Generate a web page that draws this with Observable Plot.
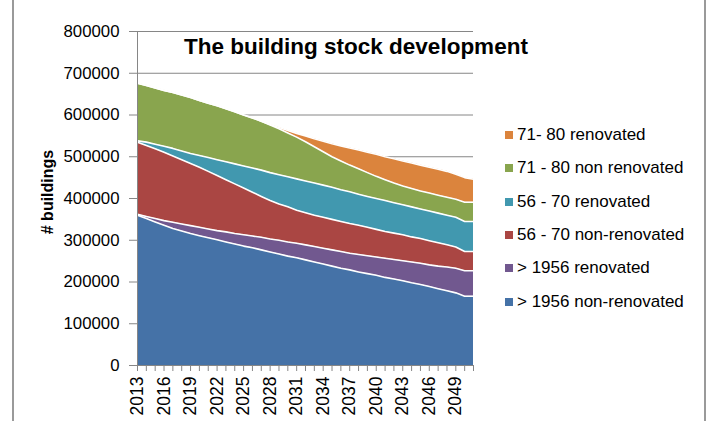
<!DOCTYPE html>
<html>
<head>
<meta charset="utf-8">
<script src="https://cdn.jsdelivr.net/npm/d3@7"></script>
<script src="https://cdn.jsdelivr.net/npm/@observablehq/plot@0.6"></script>
<style>
  html, body { margin: 0; padding: 0; background: #fff; }
  #wrap { position: relative; width: 709px; height: 421px; overflow: hidden; font-family: "Liberation Sans", Arial, sans-serif; }
  #frame { position: absolute; left: 12px; top: -5px; width: 690px; height: 440px; border-left: 2px solid #9a9a9a; border-right: 2px solid #9a9a9a; }
  #title { position: absolute; left: 0; width: 712px; top: 36px; text-align: center; font-weight: bold; font-size: 22.5px; line-height: 1; color: #000; }
  #ytitle { position: absolute; left: 48px; top: 192px; transform: translate(-50%, -50%) rotate(-90deg); font-weight: bold; font-size: 16px; white-space: nowrap; color: #000; }
  .leg { position: absolute; left: 505px; font-size: 17px; line-height: 20px; white-space: nowrap; color: #000; }
  .leg span.sw { display: inline-block; width: 8px; height: 8px; margin-right: 4px; vertical-align: 1px; }
  svg { position: absolute; left: 0; top: 0; }
</style>
</head>
<body>
<div id="wrap">
  <div id="frame"></div>
</div>
<script>
const years = [2013,2014,2015,2016,2017,2018,2019,2020,2021,2022,2023,2024,2025,2026,2027,2028,2029,2030,2031,2032,2033,2034,2035,2036,2037,2038,2039,2040,2041,2042,2043,2044,2045,2046,2047,2048,2049,2050,2051];
const labelYears = [2013,2016,2019,2022,2025,2028,2031,2034,2037,2040,2043,2046,2049];
const yTicks = [0,100000,200000,300000,400000,500000,600000,700000,800000];

const seriesNames = ["> 1956 non-renovated", "> 1956 renovated", "56 - 70 non-renovated", "56 - 70 renovated", "71 - 80 non renovated", "71- 80 renovated"];
const seriesColors = ["#4572A7", "#71588F", "#AA4643", "#4198AF", "#89A54E", "#DB843D"];

const pre1956NonRenovated = [360000,352000,344000,336000,328000,322000,316000,311000,306000,301000,296000,291000,286000,282000,277000,272000,267000,262000,258000,253000,248000,243000,238000,233000,229000,224000,220000,216000,211000,207000,203000,198000,194000,189000,184000,179000,174000,166000,166000];
const pre1956Renovated = [2000,5000,8000,11000,15000,17000,19000,20000,21000,22000,24000,25000,27000,28000,30000,31000,33000,34000,35000,36000,37000,38000,39000,40000,40000,42000,43000,44000,46000,47000,48000,50000,51000,52000,54000,57000,59000,61000,61000];
const p5670NonRenovated = [173000,170000,167000,164000,159000,154000,149000,144000,138000,132000,125000,119000,112000,105000,98000,92000,87000,84000,79000,77000,75000,74000,73000,72000,71000,70000,68000,66000,64000,63000,62000,60000,59000,58000,56000,53000,51000,46000,46000];
const p5670Renovated = [3000,8000,11000,14000,18000,21000,24000,28000,33000,38000,43000,48000,53000,58000,63000,67000,70000,72000,75000,76000,77000,77000,77000,76000,76000,74000,74000,74000,74000,73000,72000,72000,71000,71000,71000,71000,71000,72000,72000];
const p7180NonRenovated = [138000,136000,135000,134000,134000,134000,134000,132000,130000,129000,127000,125000,122000,120000,117000,114000,110000,105000,100000,94000,87000,80000,73000,69000,64000,61000,57000,53000,50000,47000,45000,44000,43000,43000,43000,43000,43000,46000,46000];
const p7180Renovated = [0,0,0,0,0,0,0,0,0,0,0,0,0,0,0,1000,3000,6000,9000,14000,19000,25000,31000,36000,41000,45000,49000,53000,55000,58000,60000,61000,62000,62000,62000,62000,60000,59000,55000];

const seriesValues = [pre1956NonRenovated, pre1956Renovated, p5670NonRenovated, p5670Renovated, p7180NonRenovated, p7180Renovated];

const data = years.flatMap((year, i) => seriesNames.map((name, k) => ({year, series: name, value: seriesValues[k][i]})));

const gray = "#868686";

const chart = Plot.plot({
  width: 709,
  height: 421,
  marginLeft: 137,
  marginRight: 236,
  marginTop: 31,
  marginBottom: 56,
  style: {fontFamily: '"Liberation Sans", Arial, sans-serif', fontSize: "16.8px", color: "#000", background: "transparent"},
  x: {domain: [2013, 2051]},
  y: {domain: [0, 800000]},
  color: {domain: seriesNames, range: seriesColors},
  marks: [
    Plot.gridY(yTicks, {stroke: gray, strokeOpacity: 1, strokeWidth: 1}),
    Plot.areaY(data, {x: "year", y: "value", z: "series", fill: "series", order: seriesNames}),
    Plot.lineY(data, Plot.stackY2({x: "year", y: "value", z: "series", order: seriesNames, stroke: "white", strokeWidth: 1.6})),
    Plot.frame({anchor: "left", stroke: gray}),
    Plot.frame({anchor: "bottom", stroke: gray}),
    Plot.axisY(yTicks, {tickSize: 8, tickPadding: 10, stroke: gray, tickFormat: d => String(d), label: null, fontSize: 16.8}),
    Plot.axisX(years, {tickSize: 6, stroke: gray, tickFormat: () => "", label: null}),
    Plot.axisX(labelYears, {tickSize: 0, tickPadding: 11, tickRotate: -90, tickFormat: d => String(d), label: null, fontSize: 17.5})
  ]
});

const wrap = document.getElementById("wrap");
wrap.appendChild(chart);

const title = document.createElement("div");
title.id = "title";
title.textContent = "The building stock development";
wrap.appendChild(title);

const ytitle = document.createElement("div");
ytitle.id = "ytitle";
ytitle.textContent = "# buildings";
wrap.appendChild(ytitle);

const legendCenters = [135, 168, 202, 235, 268, 302];
const legendOrder = [5, 4, 3, 2, 1, 0];
legendOrder.forEach((k, j) => {
  const d = document.createElement("div");
  d.className = "leg";
  d.style.top = (legendCenters[j] - 10) + "px";
  const sw = document.createElement("span");
  sw.className = "sw";
  sw.style.background = seriesColors[k];
  d.appendChild(sw);
  d.appendChild(document.createTextNode(seriesNames[k]));
  wrap.appendChild(d);
});
</script>
</body>
</html>
